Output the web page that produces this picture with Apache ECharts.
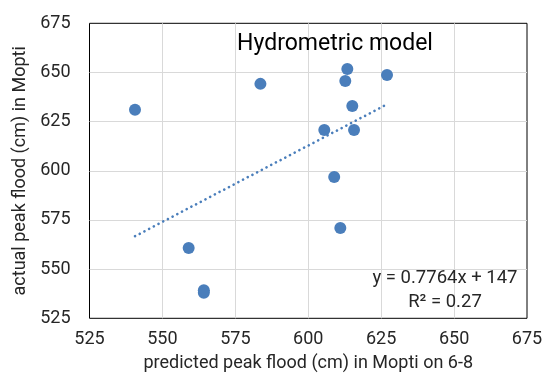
<!DOCTYPE html>
<html>
<head>
<meta charset="utf-8">
<script src="https://cdn.jsdelivr.net/npm/echarts@6/dist/echarts.min.js"></script>
<style>
html,body{margin:0;padding:0;background:#fff;}
#chart{width:556px;height:379px;}
</style>
</head>
<body>
<div id="chart"></div>
<script>
// Data
var predicted = [540.6, 583.6, 613.4, 612.7, 627.0, 615.1, 605.5, 615.7, 608.9, 611.0, 559.0, 564.2, 564.2];
var actual    = [631.0, 644.2, 651.8, 645.7, 648.7, 633.0, 620.8, 620.8, 596.9, 570.9, 560.8, 539.3, 538.0];
var trendSlope = [0.7764];
var trendIntercept = [147];
var rSquared = [0.27];
var axisTicks = [525, 550, 575, 600, 625, 650, 675];

var points = predicted.map(function (x, i) { return [x, actual[i]]; });
var xMin = Math.min.apply(null, predicted);
var xMax = Math.max.apply(null, predicted);
var trend = [xMin, xMax].map(function (x) { return [x, trendSlope[0] * x + trendIntercept[0]]; });

var FONT = 'Roboto';
var TXT = '#262626';

var chart = echarts.init(document.getElementById('chart'), null, { renderer: 'canvas' });
var gridLeft = 89.5, gridRight = 29, gridTop = 23.3, gridBottom = 60.7;
chart.setOption({
  animation: false,
  backgroundColor: '#fff',
  grid: { left: gridLeft, right: gridRight, top: gridTop, bottom: gridBottom, show: true, borderColor: '#000', borderWidth: 1, backgroundColor: 'transparent' },
  xAxis: {
    type: 'value', min: axisTicks[0], max: axisTicks[axisTicks.length - 1], interval: 25,
    name: 'predicted peak flood (cm) in Mopti on 6-8', nameLocation: 'middle', nameGap: 36,
    nameTextStyle: { fontFamily: FONT, fontSize: 18, color: TXT },
    axisLine: { show: false }, axisTick: { show: false },
    axisLabel: { fontFamily: FONT, fontSize: 18, color: TXT, margin: 12 },
    splitLine: { show: true, showMinLine: false, showMaxLine: false, lineStyle: { color: '#d9d9d9', width: 1 } }
  },
  yAxis: {
    type: 'value', min: axisTicks[0], max: axisTicks[axisTicks.length - 1], interval: 25,
    name: 'actual peak flood (cm) in Mopti', nameLocation: 'middle', nameGap: 56,
    nameTextStyle: { fontFamily: FONT, fontSize: 18, color: TXT },
    axisLine: { show: false }, axisTick: { show: false },
    axisLabel: { fontFamily: FONT, fontSize: 18, color: TXT, margin: 19 },
    splitLine: { show: true, showMinLine: false, showMaxLine: false, lineStyle: { color: '#d9d9d9', width: 1 } }
  },
  graphic: [
    { type: 'text', x: 335, y: 44, z: 10, style: { text: 'Hydrometric model', font: '23px Roboto', fill: '#000', textAlign: 'center', textVerticalAlign: 'middle' } },
    { type: 'text', x: 445, y: 278, z: 10, style: { text: 'y = ' + trendSlope[0] + 'x + ' + trendIntercept[0], font: '18.5px Roboto', fill: TXT, textAlign: 'center', textVerticalAlign: 'middle' } },
    { type: 'text', x: 445, y: 302, z: 10, style: { text: 'R\u00b2 = ' + rSquared[0], font: '18.5px Roboto', fill: TXT, textAlign: 'center', textVerticalAlign: 'middle' } }
  ],
  series: [
    {
      type: 'line', data: trend, showSymbol: false, symbol: 'none', silent: true, z: 1,
      lineStyle: { color: '#4a7ebb', width: 2.6, type: [0.1, 5.2], cap: 'round' }
    },
    {
      type: 'scatter', data: points, symbolSize: 12, z: 2,
      itemStyle: { color: '#4a7ebb', opacity: 1 }
    }
  ]
});
</script>
</body>
</html>
